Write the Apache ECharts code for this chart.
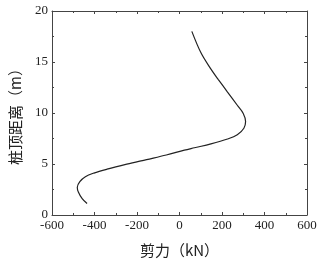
<!DOCTYPE html>
<html>
<head>
<meta charset="utf-8">
<script src="https://cdn.jsdelivr.net/npm/echarts@6/dist/echarts.min.js"></script>
<style>
  html, body { margin: 0; padding: 0; background: #fff; }
  #chart { width: 321px; height: 263px; }
</style>
</head>
<body>
<div id="chart"></div>
<script>
// shear force (kN) vs distance from pile top (m)
const shear = [-435, -458, -476, -481, -469, -443, -403, -341, -248, -155, -62, 23, 70, 148, 226, 272, 303, 311, 300, 272, 226, 182, 148, 101, 58];
const depth = [1.12, 1.6, 2.25, 2.73, 3.28, 3.76, 4.11, 4.49, 4.98, 5.43, 5.88, 6.36, 6.59, 6.97, 7.45, 7.87, 8.51, 9.16, 9.96, 10.76, 12.05, 13.3, 14.3, 15.9, 18.0];
const xName = "剪力（kN）";
const yName = "桩顶距离（m）";

const data = shear.map((v, i) => [v, depth[i]]);

const axisColor = "#444";
const serif = "Liberation Serif";
const cjk = "Noto Sans CJK SC";

function xAxisCfg(pos, showLabel) {
  return {
    type: "value",
    position: pos,
    min: -600,
    max: 600,
    interval: 200,
    name: showLabel ? xName : "",
    nameLocation: "middle",
    nameGap: 28,
    nameTextStyle: { fontFamily: cjk, fontSize: 15, color: "#222" },
    axisLine: { show: true, onZero: false, lineStyle: { color: axisColor, width: 1 } },
    axisTick: { show: true, inside: true, length: 3, lineStyle: { color: axisColor } },
    minorTick: { show: true, splitNumber: 2, length: 2, lineStyle: { color: axisColor } },
    axisLabel: { show: showLabel, fontFamily: serif, fontSize: 13, color: "#222", margin: 4 },
    splitLine: { show: false }
  };
}

function yAxisCfg(pos, showLabel) {
  return {
    type: "value",
    position: pos,
    min: 0,
    max: 20,
    interval: 5,
    name: showLabel ? yName : "",
    nameLocation: "middle",
    nameRotate: 90,
    nameGap: 29,
    nameTextStyle: { fontFamily: cjk, fontSize: 15, color: "#222" },
    axisLine: { show: true, onZero: false, lineStyle: { color: axisColor, width: 1 } },
    axisTick: { show: true, inside: true, length: 3, lineStyle: { color: axisColor } },
    minorTick: { show: true, splitNumber: 2, length: 2, lineStyle: { color: axisColor } },
    axisLabel: { show: showLabel, fontFamily: serif, fontSize: 13, color: "#222", margin: 4 },
    splitLine: { show: false }
  };
}

const myChart = echarts.init(document.getElementById("chart"));
myChart.setOption({
  animation: false,
  grid: {
    left: 50,
    right: 14,
    top: 11,
    bottom: 45,
    containLabel: false
  },
  xAxis: [xAxisCfg("bottom", true), xAxisCfg("top", false)],
  yAxis: [yAxisCfg("left", true), yAxisCfg("right", false)],
  series: [
    {
      type: "line",
      xAxisIndex: 0,
      yAxisIndex: 0,
      showSymbol: false,
      smooth: 0.35,
      lineStyle: { width: 1.2, color: "#222" },
      data
    }
  ]
});
</script>
</body>
</html>
